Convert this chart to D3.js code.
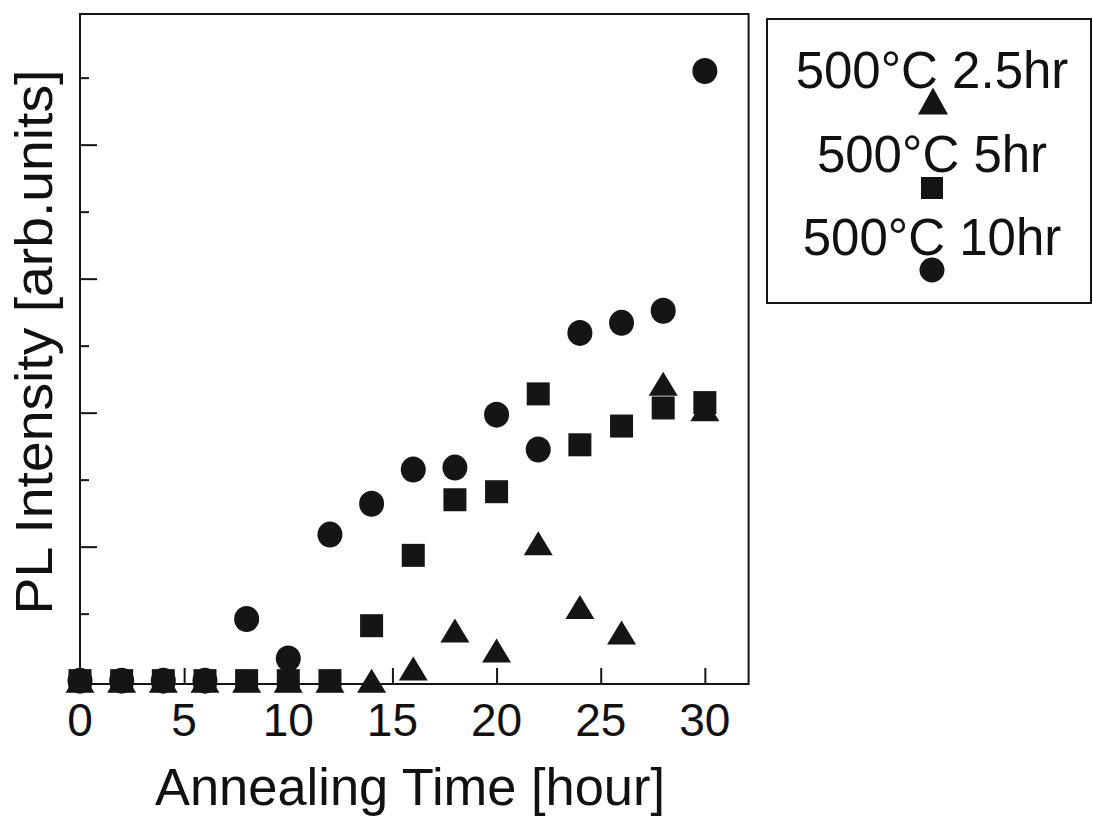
<!DOCTYPE html>
<html>
<head>
<meta charset="utf-8">
<script src="https://cdn.jsdelivr.net/npm/d3@7"></script>
<style>
  body { margin: 0; background: #fff; }
  text { font-family: "Liberation Sans", Arial, Helvetica, sans-serif; fill: #111; }
</style>
</head>
<body>
<script>
// annealing time [hour]
let hours = [0, 2, 4, 6, 8, 10, 12, 14, 16, 18, 20, 22, 24, 26, 28, 30];
// PL intensity, arbitrary units (1 unit = one y tick)
let pl25 = [0, 0, 0, 0, 0, 0, 0, 0, 0.18, 0.75, 0.45, 2.05, 1.1, 0.72, 4.43, 4.05];
let pl5 = [0, 0, 0, 0, 0, 0, 0, 0.82, 1.87, 2.7, 2.82, 4.28, 3.52, 3.8, 4.07, 4.15];
let pl10 = [0, 0, 0, 0, 0.92, 0.33, 2.18, 2.64, 3.15, 3.18, 3.97, 3.45, 5.19, 5.34, 5.52, 9.1];

let xTicks = [5, 10, 15, 20, 25, 30];
let yTicks = [1, 2, 3, 4, 5, 6, 7, 8, 9];
let legendLabels = ["500°C 2.5hr", "500°C 5hr", "500°C 10hr"];

let w = 1093;
let h = 824;
let ink = "#151515";

var svg = d3.select("body")
  .append("svg")
  .attr("width", w)
  .attr("height", h);

var x = d3.scaleLinear().domain([0, 32.1]).range([80, 748.6]);
var y = d3.scaleLinear().domain([-0.05, 9.95]).range([684, 14]);

function rows(vals) {
  return hours.map(function(t, i) { return {t: t, v: vals[i]}; });
}

// frame
svg.append("rect")
  .attr("x", x(0))
  .attr("y", y(9.95))
  .attr("width", x(32.1) - x(0))
  .attr("height", y(-0.05) - y(9.95))
  .attr("fill", "none")
  .attr("stroke", ink)
  .attr("stroke-width", 2);

// inward ticks
var xAxis = d3.axisTop(x).tickValues(xTicks).tickSize(16).tickFormat("");
svg.append("g")
  .attr("transform", "translate(0," + y(-0.05) + ")")
  .call(xAxis)
  .call(function(g) { g.select(".domain").remove(); })
  .selectAll("line").attr("stroke", ink).attr("stroke-width", 2);

var yAxis = d3.axisRight(y).tickValues(yTicks).tickSize(12).tickFormat("");
var yg = svg.append("g")
  .attr("transform", "translate(" + x(0) + ",0)")
  .call(yAxis);
yg.select(".domain").remove();
yg.selectAll(".tick line")
  .attr("x2", function(d) { return d % 2 == 0 ? 17 : 9; })
  .attr("stroke", ink)
  .attr("stroke-width", 2);

// x tick labels
svg.selectAll(".xlab")
  .data([0].concat(xTicks))
  .enter()
  .append("text")
  .attr("class", "xlab")
  .attr("x", function(d) { return x(d); })
  .attr("y", 736)
  .attr("text-anchor", "middle")
  .attr("font-size", 46)
  .text(function(d) { return d; });

// axis titles
svg.append("text")
  .attr("x", 410)
  .attr("y", 805)
  .attr("text-anchor", "middle")
  .attr("font-size", 51)
  .attr("textLength", 510)
  .attr("lengthAdjust", "spacingAndGlyphs")
  .text("Annealing Time [hour]");

svg.append("text")
  .attr("transform", "translate(52,342) rotate(-90)")
  .attr("text-anchor", "middle")
  .attr("font-size", 51)
  .attr("textLength", 545)
  .attr("lengthAdjust", "spacingAndGlyphs")
  .text("PL Intensity [arb.units]");

// markers
function triPath(cx, cy, hw, hh) {
  return "M" + cx + "," + (cy - hh) + "L" + (cx + hw) + "," + (cy + hh) + "L" + (cx - hw) + "," + (cy + hh) + "Z";
}

svg.selectAll(".c10")
  .data(rows(pl10))
  .enter()
  .append("ellipse")
  .attr("class", "c10")
  .attr("cx", function(d) { return x(d.t); })
  .attr("cy", function(d) { return y(d.v); })
  .attr("rx", 12.5)
  .attr("ry", 13)
  .attr("fill", ink);

svg.selectAll(".s5")
  .data(rows(pl5))
  .enter()
  .append("rect")
  .attr("class", "s5")
  .attr("x", function(d) { return x(d.t) - 11.5; })
  .attr("y", function(d) { return y(d.v) - 11.5; })
  .attr("width", 23)
  .attr("height", 23)
  .attr("fill", ink);

svg.selectAll(".t25")
  .data(rows(pl25))
  .enter()
  .append("path")
  .attr("class", "t25")
  .attr("d", function(d) { return triPath(x(d.t), y(d.v), 14.5, 12); })
  .attr("fill", ink);

// legend
svg.append("rect")
  .attr("x", 767)
  .attr("y", 19)
  .attr("width", 324)
  .attr("height", 284)
  .attr("fill", "none")
  .attr("stroke", ink)
  .attr("stroke-width", 2);

var legY = [88, 172, 255];
svg.selectAll(".leg")
  .data(legendLabels)
  .enter()
  .append("text")
  .attr("class", "leg")
  .attr("x", 932)
  .attr("y", function(d, i) { return legY[i]; })
  .attr("text-anchor", "middle")
  .attr("font-size", 51)
  .text(function(d) { return d; });

svg.append("path")
  .attr("d", triPath(933, 101, 15, 13.5))
  .attr("fill", ink);
svg.append("rect")
  .attr("x", 921)
  .attr("y", 177)
  .attr("width", 22)
  .attr("height", 22)
  .attr("fill", ink);
svg.append("circle")
  .attr("cx", 932)
  .attr("cy", 270)
  .attr("r", 12.5)
  .attr("fill", ink);
</script>
</body>
</html>
